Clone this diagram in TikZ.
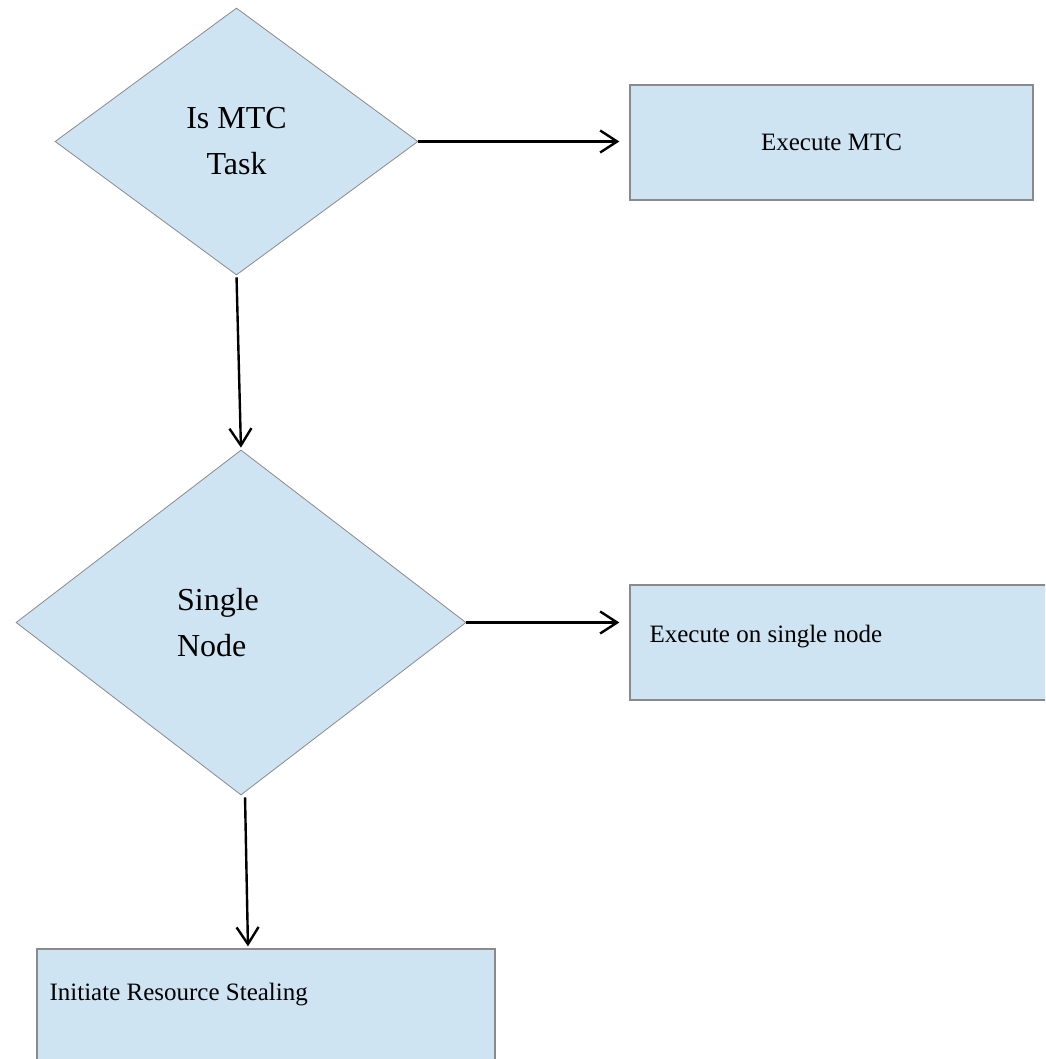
\documentclass[tikz,border=0pt]{standalone}
\usepackage{fontspec}
\setmainfont{Liberation Serif}
\usetikzlibrary{arrows.meta,shapes.geometric,calc}
\definecolor{stepfill}{HTML}{CFE4F2}
\definecolor{edgegray}{HTML}{8A8A8A}
\tikzset{
  decide/.style={diamond,draw=edgegray,line width=0.8pt,fill=stepfill,inner sep=0pt,
    font=\fontsize{32}{46}\selectfont,align=center},
  dtext/.style={inner sep=0pt,font=\fontsize{32}{46}\selectfont,align=left},
  task/.style={rectangle,draw=edgegray,line width=1.3pt,fill=stepfill,inner sep=0pt,
    font=\fontsize{25}{30}\selectfont},
  tlab/.style={inner sep=0pt,font=\fontsize{25}{30}\selectfont,anchor=base west},
  flow/.style={-{Straight Barb[length=17pt,width=22pt]},line width=2.4pt,draw=black},
}
\begin{document}
\begin{tikzpicture}[x=1pt,y=-1pt]
  \clip (0,0) rectangle (1045,1059);
  % decisions
  \node[decide,minimum width=363pt,minimum height=267pt] (isMTC) at (236.5,141.5) {Is MTC\\Task};
  \node[decide,minimum width=450pt,minimum height=345pt] (single) at (241,622.5) {};
  \node[dtext] (singleTxt) at ($(single)+(-23,0)$) {Single\\Node};
  % tasks
  \node[task,minimum width=403pt,minimum height=115pt] (execMTC) at (831.5,142.5) {Execute MTC};
  \node[task,minimum width=430pt,minimum height=115pt] (execSingle) at (845,642.5) {};
  \node[tlab] (execSingleTxt) at ($(execSingle.north west)+(20,58)$) {Execute on single node};
  \node[task,minimum width=458pt,minimum height=120pt] (steal) at (266,1009) {};
  \node[tlab] (stealTxt) at ($(steal.north west)+(13,52)$) {Initiate Resource Stealing};
  % arrows
  \draw[flow,shorten >=10pt] (isMTC.east) -- (isMTC.east -| execMTC.west);
  \draw[flow,shorten <=2pt,shorten >=2pt] (isMTC.south) -- (single.north);
  \draw[flow,shorten >=10pt] (single.east) -- (single.east -| execSingle.west);
  \draw[flow,shorten <=2pt,shorten >=2pt] ([xshift=4pt]single.south) -- ([xshift=7pt]single.south |- steal.north);
\end{tikzpicture}
\end{document}
